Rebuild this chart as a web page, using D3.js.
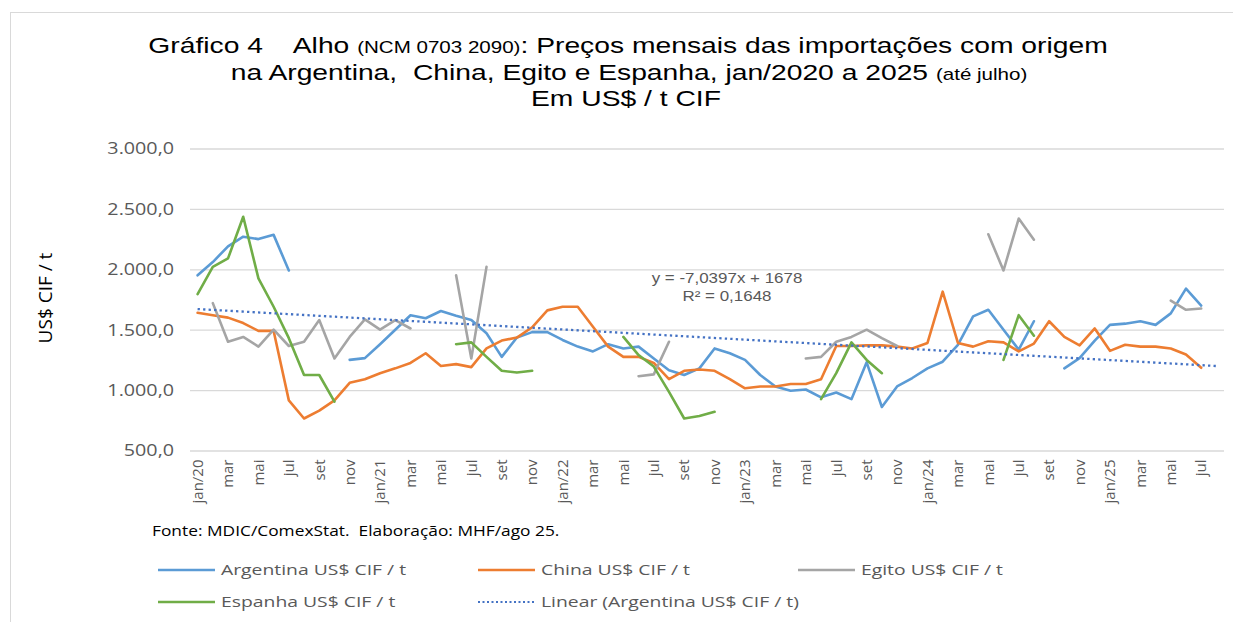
<!DOCTYPE html>
<html>
<head>
<meta charset="utf-8">
<script src="https://cdn.jsdelivr.net/npm/d3@7"></script>
<style>
	body { margin: 0; background: #fff; }
	text { font-family: 'Liberation Sans', Arial, sans-serif; }
</style>
</head>
<body>
<svg id="chart"></svg>
<script>
const width = 1233, height = 622;

// month labels (one category per month, jan/20 .. ago/25)
const monthNames = ['jan', 'fev', 'mar', 'abr', 'mai', 'jun', 'jul', 'ago', 'set', 'out', 'nov', 'dez'];
const years = ['20', '21', '22', '23', '24', '25'];
const yTicks = [500, 1000, 1500, 2000, 2500, 3000];

const argentina = [1950, 2060, 2190, 2270, 2250, 2285, 1990, null, null, null,
	1250, 1265, 1380, 1500, 1620, 1595, 1655, 1615, 1580, 1470,
	1275, 1435, 1480, 1480, 1415, 1360, 1320, 1380, 1345, 1360,
	1262, 1165, 1125, 1180, 1345, 1305, 1250, 1125, 1030, 995,
	1005, 940, 980, 925, 1230, 860, 1030, 1100, 1180, 1235,
	1375, 1610, 1665, 1500, 1335, 1570, null, 1180, 1265, 1410,
	1540, 1550, 1570, 1540, 1635, 1840, 1700];

const china = [1640, 1620, 1600, 1555, 1490, 1490, 915, 765, 830, 915,
	1060, 1090, 1140, 1180, 1225, 1305, 1200, 1215, 1190, 1345,
	1410, 1435, 1520, 1660, 1690, 1690, 1525, 1360, 1275, 1275,
	1225, 1090, 1160, 1170, 1160, 1090, 1015, 1030, 1030, 1050,
	1050, 1090, 1365, 1365, 1370, 1370, 1360, 1345, 1390, 1815,
	1390, 1360, 1405, 1395, 1320, 1385, 1570, 1440, 1370, 1510,
	1325, 1375, 1360, 1360, 1345, 1295, 1185];

const egito = [null, 1720, 1400, 1440, 1360, 1500, 1365, 1400, 1580, 1262,
	1440, 1585, 1500, 1580, 1510, null, null, 1950, 1262, 2020,
	null, null, null, null, null, null, null, null, null, 1115,
	1130, 1400, null, null, null, null, null, null, null, null,
	1262, 1275, 1400, 1440, 1500, 1430, 1365, null, null, null,
	null, null, 2290, 1990, 2420, 2245, null, null, null, null,
	null, null, null, null, 1740, 1665, 1675];

const espanha = [1795, 2020, 2090, 2435, 1925, 1690, 1430, 1125, 1125, 905,
	null, null, null, null, null, null, null, 1380, 1395, 1275,
	1160, 1145, 1160, null, null, null, null, null, 1440, 1290,
	1195, 985, 765, 785, 820, null, null, null, null, null,
	null, 925, 1140, 1395, 1250, 1140, null, null, null, null,
	null, null, null, 1250, 1620, 1450, null, null, null, null,
	null, null, null, null, null, null, null];

// linear trend of Argentina, as shown on the chart
const trendSlope = -7.0397, trendIntercept = 1678;

const categories = [];
years.forEach(y => monthNames.forEach((m, i) => {
	categories.push(i === 0 ? `${m}/${y}` : m);
}));
categories.splice(68);

const series = [
	{ name: 'Argentina US$ CIF / t', values: argentina, color: '#5B9BD5' },
	{ name: 'China US$ CIF / t', values: china, color: '#ED7D31' },
	{ name: 'Egito US$ CIF / t', values: egito, color: '#A5A5A5' },
	{ name: 'Espanha US$ CIF / t', values: espanha, color: '#70AD47' }
];

const plotLeft = 190, plotRight = 1224, plotTop = 148.5, plotBottom = 450.5;

const xScale = d3.scaleBand()
	.domain(d3.range(categories.length))
	.range([plotLeft, plotRight])
	.padding(0);
const xPos = (i) => xScale(i) + xScale.bandwidth() / 2;

const yScale = d3.scaleLinear()
	.domain([500, 3000])
	.range([plotBottom, plotTop]);

const locale = d3.formatLocale({ decimal: ',', thousands: '.', grouping: [3], currency: ['US$', ''] });
const fmt = locale.format(',.1f');

// the original picture is a bit wider than tall, so text gets stretched sideways
const stretch = (sel, sx) => sel.attr('transform', function() {
	const x = +d3.select(this).attr('x') || 0;
	return `translate(${x},0) scale(${sx},1) translate(${-x},0)`;
});

const svg = d3.select('#chart')
	.attr('width', width)
	.attr('height', height);

// outer frame
svg.append('rect')
	.attr('x', 10.5).attr('y', 12.5)
	.attr('width', width - 10).attr('height', height)
	.attr('fill', '#fff')
	.attr('stroke', '#D9D9D9');

// title
const title = svg.append('g').attr('fill', '#000').attr('text-anchor', 'middle');
const t1 = title.append('text').attr('x', 628).attr('y', 53).style('font-size', '22px');
t1.append('tspan').text('Gráfico 4\u00a0\u00a0\u00a0 Alho ');
t1.append('tspan').style('font-size', '16px').text('(NCM 0703 2090)');
t1.append('tspan').text(': Preços mensais das importações com origem');
const t2 = title.append('text').attr('x', 629).attr('y', 80).style('font-size', '22px');
t2.append('tspan').text('na Argentina,\u00a0 China, Egito e Espanha, jan/2020 a 2025 ');
t2.append('tspan').style('font-size', '16px').text('(até julho)');
title.append('text').attr('x', 626).attr('y', 106).style('font-size', '22px').text('Em US$ / t CIF');
stretch(title.selectAll('text'), 1.285);

// gridlines + y axis
const yAxis = svg.append('g')
	.attr('class', 'y axis')
	.attr('transform', `translate(${plotLeft},0)`)
	.call(d3.axisLeft(yScale)
		.tickValues(yTicks)
		.tickSize(-(plotRight - plotLeft))
		.tickPadding(16)
		.tickFormat(fmt));
yAxis.select('.domain').remove();
yAxis.selectAll('line').attr('stroke', '#D9D9D9').attr('stroke-width', 1.3);
yAxis.selectAll('text')
	.attr('fill', '#595959')
	.style('font-size', '17px')
	.style('font-family', "'Open Sans', sans-serif");
stretch(yAxis.selectAll('text'), 1.16);

// x axis labels (every other month)
const xAxis = svg.append('g')
	.attr('class', 'x axis')
	.attr('transform', `translate(0,${plotBottom})`)
	.call(d3.axisBottom(xScale)
		.tickValues(d3.range(0, 67, 2))
		.tickSize(0)
		.tickFormat(i => categories[i]));
xAxis.select('.domain').remove();
xAxis.selectAll('text')
	.attr('fill', '#595959')
	.attr('text-anchor', 'end')
	.attr('transform', 'rotate(-90)')
	.attr('x', -9)
	.attr('y', 0)
	.attr('dy', '0.35em')
	.style('font-size', '15px')
	.style('font-family', "'Open Sans', sans-serif");

// y axis title
svg.append('text')
	.attr('transform', 'translate(52,298) rotate(-90)')
	.attr('text-anchor', 'middle')
	.attr('fill', '#000')
	.style('font-size', '19px')
	.style('font-family', "'Open Sans', sans-serif")
	.text('US$ CIF / t');

// series lines
const line = d3.line()
	.defined(d => d != null)
	.x((d, i) => xPos(i))
	.y(d => yScale(d));

series.forEach(s => {
	svg.append('path')
		.datum(s.values)
		.attr('fill', 'none')
		.attr('stroke', s.color)
		.attr('stroke-width', 2.6)
		.attr('stroke-linejoin', 'round')
		.attr('stroke-linecap', 'round')
		.attr('d', line);
});

// trend line
const trendPts = [0, categories.length - 1];
svg.append('line')
	.attr('x1', xPos(trendPts[0]))
	.attr('y1', yScale(trendIntercept + trendSlope * (trendPts[0] + 1)))
	.attr('x2', xPos(trendPts[1]))
	.attr('y2', yScale(trendIntercept + trendSlope * (trendPts[1] + 1)))
	.attr('stroke', '#4472C4')
	.attr('stroke-width', 2.3)
	.attr('stroke-dasharray', '2.3,3.2');

const eq = svg.append('g')
	.attr('fill', '#595959')
	.attr('text-anchor', 'middle')
	.style('font-size', '15px');
eq.append('text').attr('x', 727).attr('y', 283).text('y = -7,0397x + 1678');
eq.append('text').attr('x', 727).attr('y', 301).text('R² = 0,1648');
stretch(eq.selectAll('text'), 1.13);

// source note
const note = svg.append('text')
	.attr('x', 152).attr('y', 536)
	.attr('fill', '#000')
	.attr('xml:space', 'preserve')
	.style('font-size', '14px')
	.style('font-family', "'Open Sans', sans-serif")
	.text('Fonte: MDIC/ComexStat.  Elaboração: MHF/ago 25.');
stretch(note, 1.24);

// legend
const legendItems = [
	{ name: series[0].name, color: series[0].color, x: 158, y: 570 },
	{ name: series[1].name, color: series[1].color, x: 478, y: 570 },
	{ name: series[2].name, color: series[2].color, x: 798, y: 570 },
	{ name: series[3].name, color: series[3].color, x: 158, y: 602 },
	{ name: 'Linear (Argentina US$ CIF / t)', color: '#4472C4', x: 478, y: 602, dotted: true }
];
const legend = svg.append('g').attr('class', 'legend');
legendItems.forEach(d => {
	legend.append('line')
		.attr('x1', d.x).attr('x2', d.x + 57)
		.attr('y1', d.y).attr('y2', d.y)
		.attr('stroke', d.color)
		.attr('stroke-width', d.dotted ? 2.2 : 2.6)
		.attr('stroke-dasharray', d.dotted ? '2,2.5' : null);
	const txt = legend.append('text')
		.attr('x', d.x + 63).attr('y', d.y)
		.attr('dy', '0.35em')
		.attr('fill', '#595959')
		.style('font-size', '15px')
		.style('font-family', "'Open Sans', sans-serif")
		.text(d.name);
	stretch(txt, 1.29);
});
</script>
</body>
</html>
